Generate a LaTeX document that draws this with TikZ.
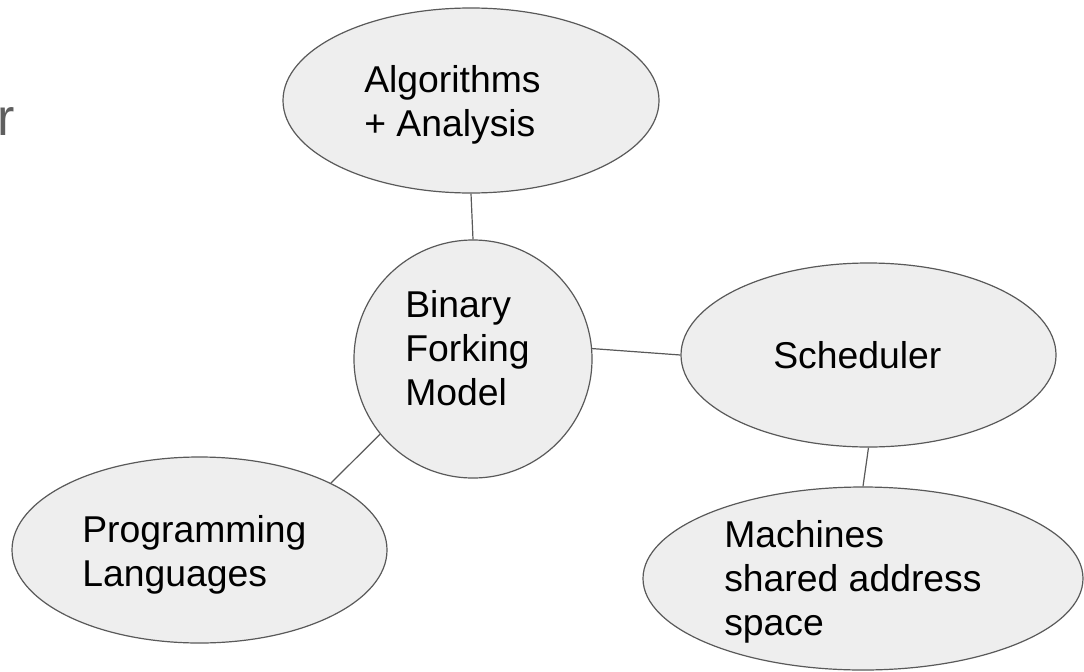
\documentclass[tikz,border=0pt]{standalone}
\usepackage{fontspec}
\setmainfont{Liberation Sans}
\usetikzlibrary{shapes.geometric}
\definecolor{edge}{HTML}{595959}
\definecolor{bubble}{HTML}{EEEEEE}
\definecolor{faint}{HTML}{5F5F5F}
\tikzset{
  bub/.style={ellipse, draw=edge, fill=bubble, line width=0.9pt, inner sep=0pt},
  lbl/.style={anchor=base west, align=left, inner sep=0pt, text=black,
              font=\fontsize{28}{33}\selectfont},
  link/.style={draw=edge, line width=0.9pt}
}
\begin{document}
\begin{tikzpicture}[x=0.75pt, y=-0.75pt]
\useasboundingbox (0,0) rectangle (1084,671);
\fill[white] (0,0) rectangle (1084,671);
% nodes
\node[bub, minimum width=282pt, minimum height=138.75pt] (alg) at (471,100.5) {};
\node[bub, circle, minimum size=178.5pt] (bfm) at (473,359) {};
\node[bub, minimum width=281.25pt, minimum height=138pt] (sched) at (868.5,355) {};
\node[bub, minimum width=330pt, minimum height=137.25pt] (mach) at (863,578.5) {};
\node[bub, minimum width=281.25pt, minimum height=139.5pt] (prog) at (199.5,550) {};
% labels (base = baseline of the last line)
\node[lbl] (algT) at (364,136) {Algorithms\\+ Analysis};
\node[lbl] (bfmT) at (405,405) {Binary\\Forking\\Model};
\node[lbl] (schedT) at (773,368) {Scheduler};
\node[lbl] (progT) at (82,586) {Programming\\Languages};
\node[lbl] (machT) at (724,635) {Machines\\shared address\\space};
\node[anchor=base west, inner sep=0pt, text=faint, font=\fontsize{39}{44}\selectfont] (cut) at (-3,135) {r};
% connectors
\draw[link] (alg.south) -- (bfm.north);
\draw[link] (bfm.5) -- (sched.180);
\draw[link] (bfm.219) -- (prog.27);
\draw[link] (sched.south) -- (mach.north);
\end{tikzpicture}
\end{document}
